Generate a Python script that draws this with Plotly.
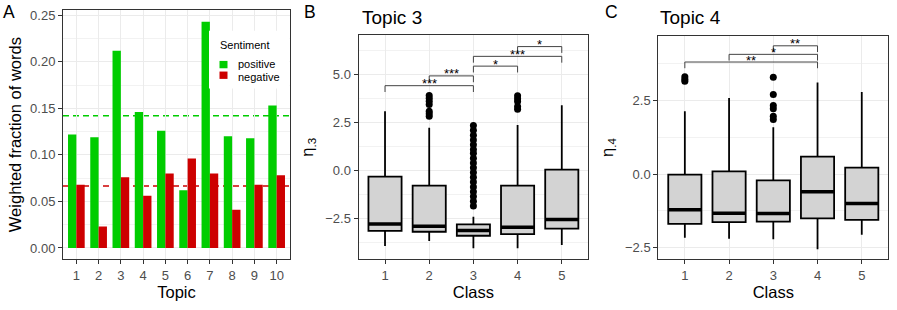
import plotly.graph_objects as go

# ---------------- data ----------------
topics = [1, 2, 3, 4, 5, 6, 7, 8, 9, 10]
positive = [0.122, 0.119, 0.212, 0.146, 0.126, 0.062, 0.243, 0.120, 0.118, 0.153]
negative = [0.068, 0.023, 0.076, 0.056, 0.080, 0.096, 0.080, 0.041, 0.068, 0.078]
sentiment_labels = ["positive", "negative"]

classes = [1, 2, 3, 4, 5]

# Topic 3 boxplot summaries
t3_q1 = [-3.14, -3.19, -3.40, -3.31, -3.03]
t3_median = [-2.78, -2.90, -3.12, -2.95, -2.55]
t3_q3 = [-0.31, -0.78, -2.81, -0.78, 0.05]
t3_lower = [-3.93, -3.67, -4.05, -4.05, -3.88]
t3_upper = [3.10, 2.24, -2.41, 2.38, 3.41]
t3_out_class2 = [3.92, 3.78, 3.62, 3.45, 3.10, 2.96, 2.84]
t3_out_class3 = [2.35, 2.10, 1.85, 1.60, 1.35, 1.10, 0.90, 0.65, 0.40, 0.15, -0.10,
                 -0.35, -0.60, -0.85, -1.10, -1.35, -1.60, -1.85]
t3_out_class4 = [3.90, 3.75, 3.60, 3.35, 3.20]
t3_pairs = [(1, 3), (2, 3), (3, 4), (3, 5), (4, 5)]
t3_levels = [4.43, 4.94, 5.45, 5.96, 6.47]
t3_labels = ["***", "***", "*", "***", "*"]

# Topic 4 boxplot summaries
t4_q1 = [-1.69, -1.63, -1.61, -1.50, -1.55]
t4_median = [-1.21, -1.33, -1.34, -0.60, -1.00]
t4_q3 = [-0.02, 0.09, -0.21, 0.59, 0.22]
t4_lower = [-2.16, -2.19, -2.21, -2.55, -2.06]
t4_upper = [2.13, 2.58, 1.59, 3.11, 2.78]
t4_out_class1 = [3.15, 3.22, 3.30]
t4_out_class3 = [3.28, 2.70, 2.33, 2.22, 1.96, 1.85]
t4_pairs = [(1, 4), (2, 4), (3, 4)]
t4_levels = [3.80, 4.06, 4.35]
t4_labels = ["**", "*", "**"]

# ---------------- style ----------------
W, H = 897, 310
FONT = "Liberation Sans, Arial, Helvetica, sans-serif"
GREEN = "#00CD00"
RED = "#CD0000"
GRID = "#EBEBEB"
BORDER = "#333333"
TICKC = "#4D4D4D"
BOX_HALF = 0.375


def fx(p):
    return p / W


def fy(p):
    return 1 - p / H


fig = go.Figure()

# ---- Panel A: bars ----
fig.add_trace(go.Bar(x=topics, y=positive, name=sentiment_labels[0],
                     marker=dict(color=GREEN, line=dict(width=0)), xaxis="x", yaxis="y"))
fig.add_trace(go.Bar(x=topics, y=negative, name=sentiment_labels[1],
                     marker=dict(color=RED, line=dict(width=0)), xaxis="x", yaxis="y"))

mean_pos = sum(positive) / len(positive)
mean_neg = sum(negative) / len(negative)
for m, c in [(mean_pos, GREEN), (mean_neg, RED)]:
    fig.add_shape(type="line", xref="x domain", yref="y", x0=0, x1=1, y0=m, y1=m,
                  line=dict(color=c, width=1.4, dash="6px,4px"), layer="below")


def add_box_panel(xa, ya, q1, med, q3, lo, hi, outliers, pairs, levels, labels, tip):
    fig.add_trace(go.Box(x=classes, q1=q1, median=med, q3=q3, lowerfence=lo, upperfence=hi,
                         width=2 * BOX_HALF, fillcolor="#D3D3D3",
                         line=dict(color="black", width=1.8), whiskerwidth=0,
                         boxpoints=False, showlegend=False, hoverinfo="skip",
                         xaxis=xa, yaxis=ya))
    mx, my = [], []
    for c, m in zip(classes, med):
        mx += [c - BOX_HALF, c + BOX_HALF, None]
        my += [m, m, None]
    fig.add_trace(go.Scatter(x=mx, y=my, mode="lines", line=dict(color="black", width=3.5),
                             showlegend=False, hoverinfo="skip", xaxis=xa, yaxis=ya))
    ox, oy = [], []
    for c, vals in outliers:
        ox += [c] * len(vals)
        oy += vals
    fig.add_trace(go.Scatter(x=ox, y=oy, mode="markers", marker=dict(color="black", size=7),
                             showlegend=False, hoverinfo="skip", xaxis=xa, yaxis=ya))
    bx, by = [], []
    for (a, b), lv in zip(pairs, levels):
        bx += [a, a, b, b, None]
        by += [lv - tip, lv, lv, lv - tip, None]
    fig.add_trace(go.Scatter(x=bx, y=by, mode="lines", line=dict(color="#444444", width=1),
                             showlegend=False, hoverinfo="skip", xaxis=xa, yaxis=ya))
    for (a, b), lv, lab in zip(pairs, levels, labels):
        fig.add_annotation(x=(a + b) / 2, y=lv, xref=xa, yref=ya, text=lab, showarrow=False,
                           yanchor="middle", xanchor="center", yshift=2,
                           font=dict(family=FONT, size=13, color="black"))


add_box_panel("x2", "y2", t3_q1, t3_median, t3_q3, t3_lower, t3_upper,
              [(2, t3_out_class2), (3, t3_out_class3), (4, t3_out_class4)],
              t3_pairs, t3_levels, t3_labels, 0.33)
add_box_panel("x3", "y3", t4_q1, t4_median, t4_q3, t4_lower, t4_upper,
              [(1, t4_out_class1), (3, t4_out_class3)],
              t4_pairs, t4_levels, t4_labels, 0.21)


def xaxis_common(domain, rng, anchor, title):
    return dict(domain=domain, range=rng, anchor=anchor, tickmode="linear", tick0=1, dtick=1,
                showgrid=True, gridcolor=GRID, gridwidth=1.1, zeroline=False,
                showline=True, mirror=True, linecolor=BORDER, linewidth=1,
                ticks="outside", ticklen=4, tickcolor=BORDER, tickwidth=1,
                tickfont=dict(family=FONT, size=13, color=TICKC),
                title=dict(text=title, font=dict(family=FONT, size=16.5, color="black"), standoff=4),
                fixedrange=True)


def yaxis_common(domain, rng, dtick, fmt, title, standoff, anchor):
    return dict(domain=domain, range=rng, anchor=anchor, side="left",
                tickmode="linear", tick0=0, dtick=dtick, tickformat=fmt,
                showgrid=True, gridcolor=GRID, gridwidth=1.1, zeroline=False,
                showline=True, mirror=True, linecolor=BORDER, linewidth=1,
                ticks="outside", ticklen=4, tickcolor=BORDER, tickwidth=1,
                tickfont=dict(family=FONT, size=13, color=TICKC),
                minor=dict(tick0=0, dtick=dtick / 2, showgrid=True,
                           gridcolor="#F2F2F2", gridwidth=0.7),
                title=dict(text=title, font=dict(family=FONT, size=16.5, color="black"), standoff=standoff),
                fixedrange=True)


fig.update_layout(
    width=W, height=H, margin=dict(l=0, r=0, t=0, b=0),
    paper_bgcolor="white", plot_bgcolor="white",
    font=dict(family=FONT, color="black"),
    barmode="group", bargap=0.25, bargroupgap=0,
    showlegend=False, hovermode=False,
    xaxis=xaxis_common([fx(63), fx(290)], [0.4, 10.6], "y", "Topic"),
    yaxis=yaxis_common([fy(259), fy(8)], [-0.0122, 0.2557], 0.05, ".2f",
                       "Weighted fraction of words", 4, "x"),
    xaxis2=xaxis_common([fx(358.5), fx(588.3)], [0.4, 5.6], "y2", "Class"),
    yaxis2=yaxis_common([fy(259), fy(33.3)], [-4.63, 7.07], 2.5, ".1f", "η<sub>.3</sub>", 7, "x2"),
    xaxis3=xaxis_common([fx(658.3), fx(888.3)], [0.4, 5.6], "y3", "Class"),
    yaxis3=yaxis_common([fy(258.7), fy(34.3)], [-2.88, 4.68], 2.5, ".1f", "η<sub>.4</sub>", 7, "x3"),
)

# ---- manual legend for panel A (white box over the panel) ----
fig.add_shape(type="rect", xref="paper", yref="paper", x0=fx(209), x1=fx(289.5), y0=fy(87), y1=fy(29),
              fillcolor="white", line=dict(width=0), layer="above")
fig.add_annotation(x=fx(217.5), y=fy(43), xref="paper", yref="paper", text="Sentiment", showarrow=False,
                   xanchor="left", yanchor="middle", font=dict(family=FONT, size=11, color="black"))
for i, (lab, col) in enumerate(zip(sentiment_labels, [GREEN, RED])):
    yc = 63 + i * 10.7
    yt = 62.4 + i * 12.6
    fig.add_shape(type="rect", xref="paper", yref="paper", x0=fx(219.5), x1=fx(227.5),
                  y0=fy(yc + 3.7), y1=fy(yc - 3.7), fillcolor=col, line=dict(width=0), layer="above")
    fig.add_annotation(x=fx(236.5), y=fy(yt), xref="paper", yref="paper", text=lab, showarrow=False,
                       xanchor="left", yanchor="middle", borderpad=0,
                       font=dict(family=FONT, size=11, color="black"))

# panel letters and titles
for txt, xc in [("A", 9), ("B", 309.5), ("C", 611.5)]:
    fig.add_annotation(x=fx(xc), y=fy(10.5), xref="paper", yref="paper", text=txt, showarrow=False,
                       xanchor="center", yanchor="middle", font=dict(family=FONT, size=17.5, color="black"))
for txt, xl in [("Topic 3", 360), ("Topic 4", 658)]:
    fig.add_annotation(x=fx(xl), y=fy(16), xref="paper", yref="paper", text=txt, showarrow=False,
                       xanchor="left", yanchor="middle", font=dict(family=FONT, size=19, color="black"))

fig.write_html("out.html", config={"displayModeBar": False},
               post_script="document.body.style.margin='0px';")
